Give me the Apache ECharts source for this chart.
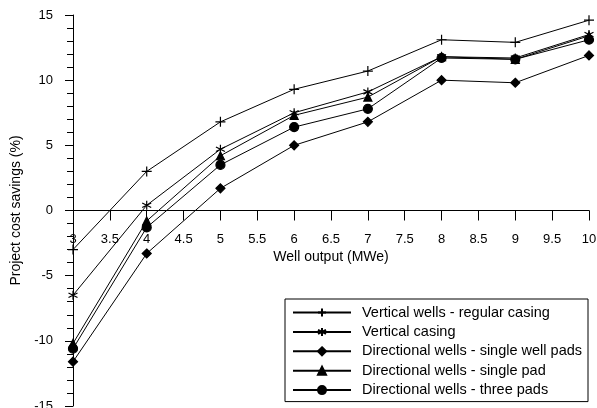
<!DOCTYPE html>
<html>
<head>
<meta charset="utf-8">
<script src="https://cdn.jsdelivr.net/npm/echarts@6/dist/echarts.min.js"></script>
<style>
  html, body { margin: 0; padding: 0; background: #fff; }
  #chart { width: 597px; height: 408px; }
</style>
</head>
<body>
<div id="chart"></div>
<script>
// Well output (MWe)
var wellOutput = [3, 4, 5, 6, 7, 8, 9, 10];

// project cost savings (%)
var verticalRegular = [-3.0, 3.0, 6.8, 9.3, 10.7, 13.1, 12.9, 14.6];
var verticalCasing = [-6.5, 0.4, 4.7, 7.5, 9.1, 11.8, 11.7, 13.5];
var dirSingleWellPads = [-11.6, -3.3, 1.7, 5.0, 6.8, 10.0, 9.8, 11.9];
var dirSinglePad = [-10.2, -0.8, 4.2, 7.3, 8.7, 11.8, 11.6, 13.4];
var dirThreePads = [-10.6, -1.3, 3.5, 6.4, 7.8, 11.7, 11.6, 13.1];

var seriesNames = [
  'Vertical wells - regular casing',
  'Vertical casing',
  'Directional wells - single well pads',
  'Directional wells - single pad',
  'Directional wells - three pads'
];

var FONT = 'Liberation Sans, Arial, sans-serif';

// custom marker shapes
var plusSymbol = 'path://M0,5L10,5M5,0L5,10';
var starSymbol = 'path://M5,0L5,10M0.7,2.5L9.3,7.5M0.7,7.5L9.3,2.5';

function makeSeries(name, values, symbol, size) {
  return {
    name: name,
    type: 'line',
    data: wellOutput.map(function (x, i) { return [x, values[i]]; }),
    symbol: symbol,
    symbolSize: size,
    showAllSymbol: true,
    lineStyle: { color: '#000', width: 1 },
    itemStyle: { color: '#000', borderColor: '#000', borderWidth: 1.2 },
    emphasis: { disabled: true },
    animation: false
  };
}

var chart = echarts.init(document.getElementById('chart'), null, { renderer: 'canvas' });

// grid: top 15, bottom 2 -> y=0 sits 195.5px above the bottom edge
var option = {
  backgroundColor: '#fff',
  textStyle: { fontFamily: FONT, color: '#000' },
  grid: { left: 73, right: 8, top: 15, bottom: 2, outerBoundsMode: 'none' },
  legend: {
    orient: 'vertical',
    left: 285,
    top: 299,
    data: seriesNames,
    itemWidth: 58,
    itemHeight: 10,
    itemGap: 4.4,
    padding: [6, 6, 4, 7],
    borderColor: '#000',
    borderWidth: 1,
    backgroundColor: '#fff',
    textStyle: { fontFamily: FONT, fontSize: 14.5, color: '#000', padding: [0, 0, 0, 6] }
  },
  xAxis: {
    type: 'value',
    min: 3,
    max: 10,
    interval: 0.5,
    offset: -195.5,
    name: 'Well output (MWe)',
    nameLocation: 'middle',
    nameGap: 34,
    nameTextStyle: { fontFamily: FONT, fontSize: 14, color: '#000' },
    axisLine: { onZero: false, lineStyle: { color: '#000', width: 1 } },
    axisTick: { show: true, length: 10, lineStyle: { color: '#000' } },
    axisLabel: { margin: 22, fontFamily: FONT, fontSize: 13, color: '#000' },
    splitLine: { show: false }
  },
  yAxis: {
    type: 'value',
    min: -15,
    max: 15,
    interval: 5,
    name: 'Project cost savings (%)',
    nameLocation: 'middle',
    nameGap: 48,
    nameTextStyle: { fontFamily: FONT, fontSize: 14, color: '#000' },
    axisLine: { show: true, onZero: false, lineStyle: { color: '#000', width: 1 } },
    axisTick: { show: true, length: 8, lineStyle: { color: '#000' } },
    minorTick: { show: true, splitNumber: 5, length: 6, lineStyle: { color: '#000' } },
    axisLabel: { margin: 20, fontFamily: FONT, fontSize: 13, color: '#000' },
    splitLine: { show: false }
  },
  series: [
    makeSeries(seriesNames[0], verticalRegular, plusSymbol, 10),
    makeSeries(seriesNames[1], verticalCasing, starSymbol, 9),
    makeSeries(seriesNames[2], dirSingleWellPads, 'diamond', 9),
    makeSeries(seriesNames[3], dirSinglePad, 'triangle', 8),
    makeSeries(seriesNames[4], dirThreePads, 'circle', 9)
  ]
};

if (option && typeof option === 'object') {
  chart.setOption(option);
}
</script>
</body>
</html>
